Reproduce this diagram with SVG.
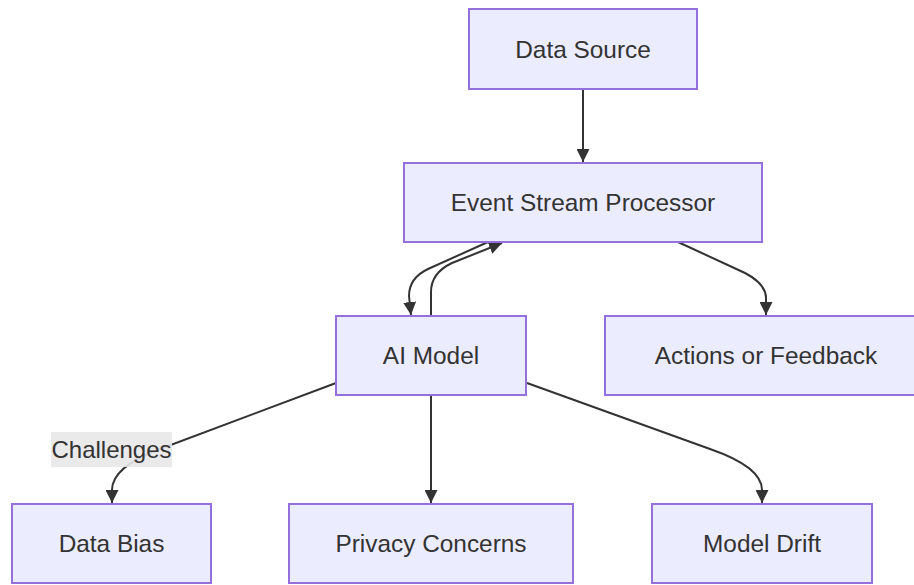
<svg xmlns="http://www.w3.org/2000/svg" width="914" height="585" viewBox="0 0 914 585">
<defs>
<marker id="arrow" markerUnits="userSpaceOnUse" markerWidth="13" markerHeight="13" viewBox="0 0 10 10" refX="10" refY="5" orient="auto">
<path d="M0,0 L10,5 L0,10 z" fill="#333333"/>
</marker>
</defs>
<style>
.node rect{fill:#ECECFF;stroke:#9370DB;stroke-width:2}
.node text{font-family:"Liberation Sans",Arial,sans-serif;font-size:24.4px;fill:#333333;text-anchor:middle}
.edge{fill:none;stroke:#333333;stroke-width:2;marker-end:url(#arrow)}
.lbl rect{fill:#e8e8e8;opacity:0.9}
.lbl text{font-family:"Liberation Sans",Arial,sans-serif;font-size:24px;fill:#333333;text-anchor:middle}
</style>
<rect width="914" height="585" fill="#ffffff"/>
<g id="connectors">
<path class="edge" d="M583,89 L583,162"/>
<path class="edge" d="M488,242 L428,269 Q409,278 409,296 L411,315"/>
<path class="edge" d="M431,316 L431,292 Q431,273 452,263 L502,243"/>
<path class="edge" d="M678,242 L745,273 Q766,284 766,298 L766,315"/>
<path class="edge" d="M336,383 L160,449 Q112,467 112,490 L112,503"/>
<path class="edge" d="M431,395 L431,503"/>
<path class="edge" d="M527,383 L710,449 Q762,467 762,490 L762,503"/>
<g class="lbl" id="label-challenges">
<rect x="51" y="432" width="121" height="35"/>
<text x="111.5" y="458">Challenges</text>
</g>
</g>
<g class="node" id="data-source">
<rect x="469" y="9" width="228" height="80"/>
<text x="583" y="57.5">Data Source</text>
</g>
<g class="node" id="event-stream-processor">
<rect x="404" y="163" width="358" height="79"/>
<text x="583" y="211">Event Stream Processor</text>
</g>
<g class="node" id="ai-model">
<rect x="336" y="316" width="190" height="79"/>
<text x="431" y="364">AI Model</text>
</g>
<g class="node" id="actions-feedback">
<rect x="605" y="316" width="322" height="79"/>
<text x="766" y="364">Actions or Feedback</text>
</g>
<g class="node" id="data-bias">
<rect x="12" y="504" width="199" height="79"/>
<text x="111.5" y="552">Data Bias</text>
</g>
<g class="node" id="privacy-concerns">
<rect x="289" y="504" width="284" height="79"/>
<text x="431" y="552">Privacy Concerns</text>
</g>
<g class="node" id="model-drift">
<rect x="652" y="504" width="220" height="79"/>
<text x="762" y="552">Model Drift</text>
</g>
</svg>
